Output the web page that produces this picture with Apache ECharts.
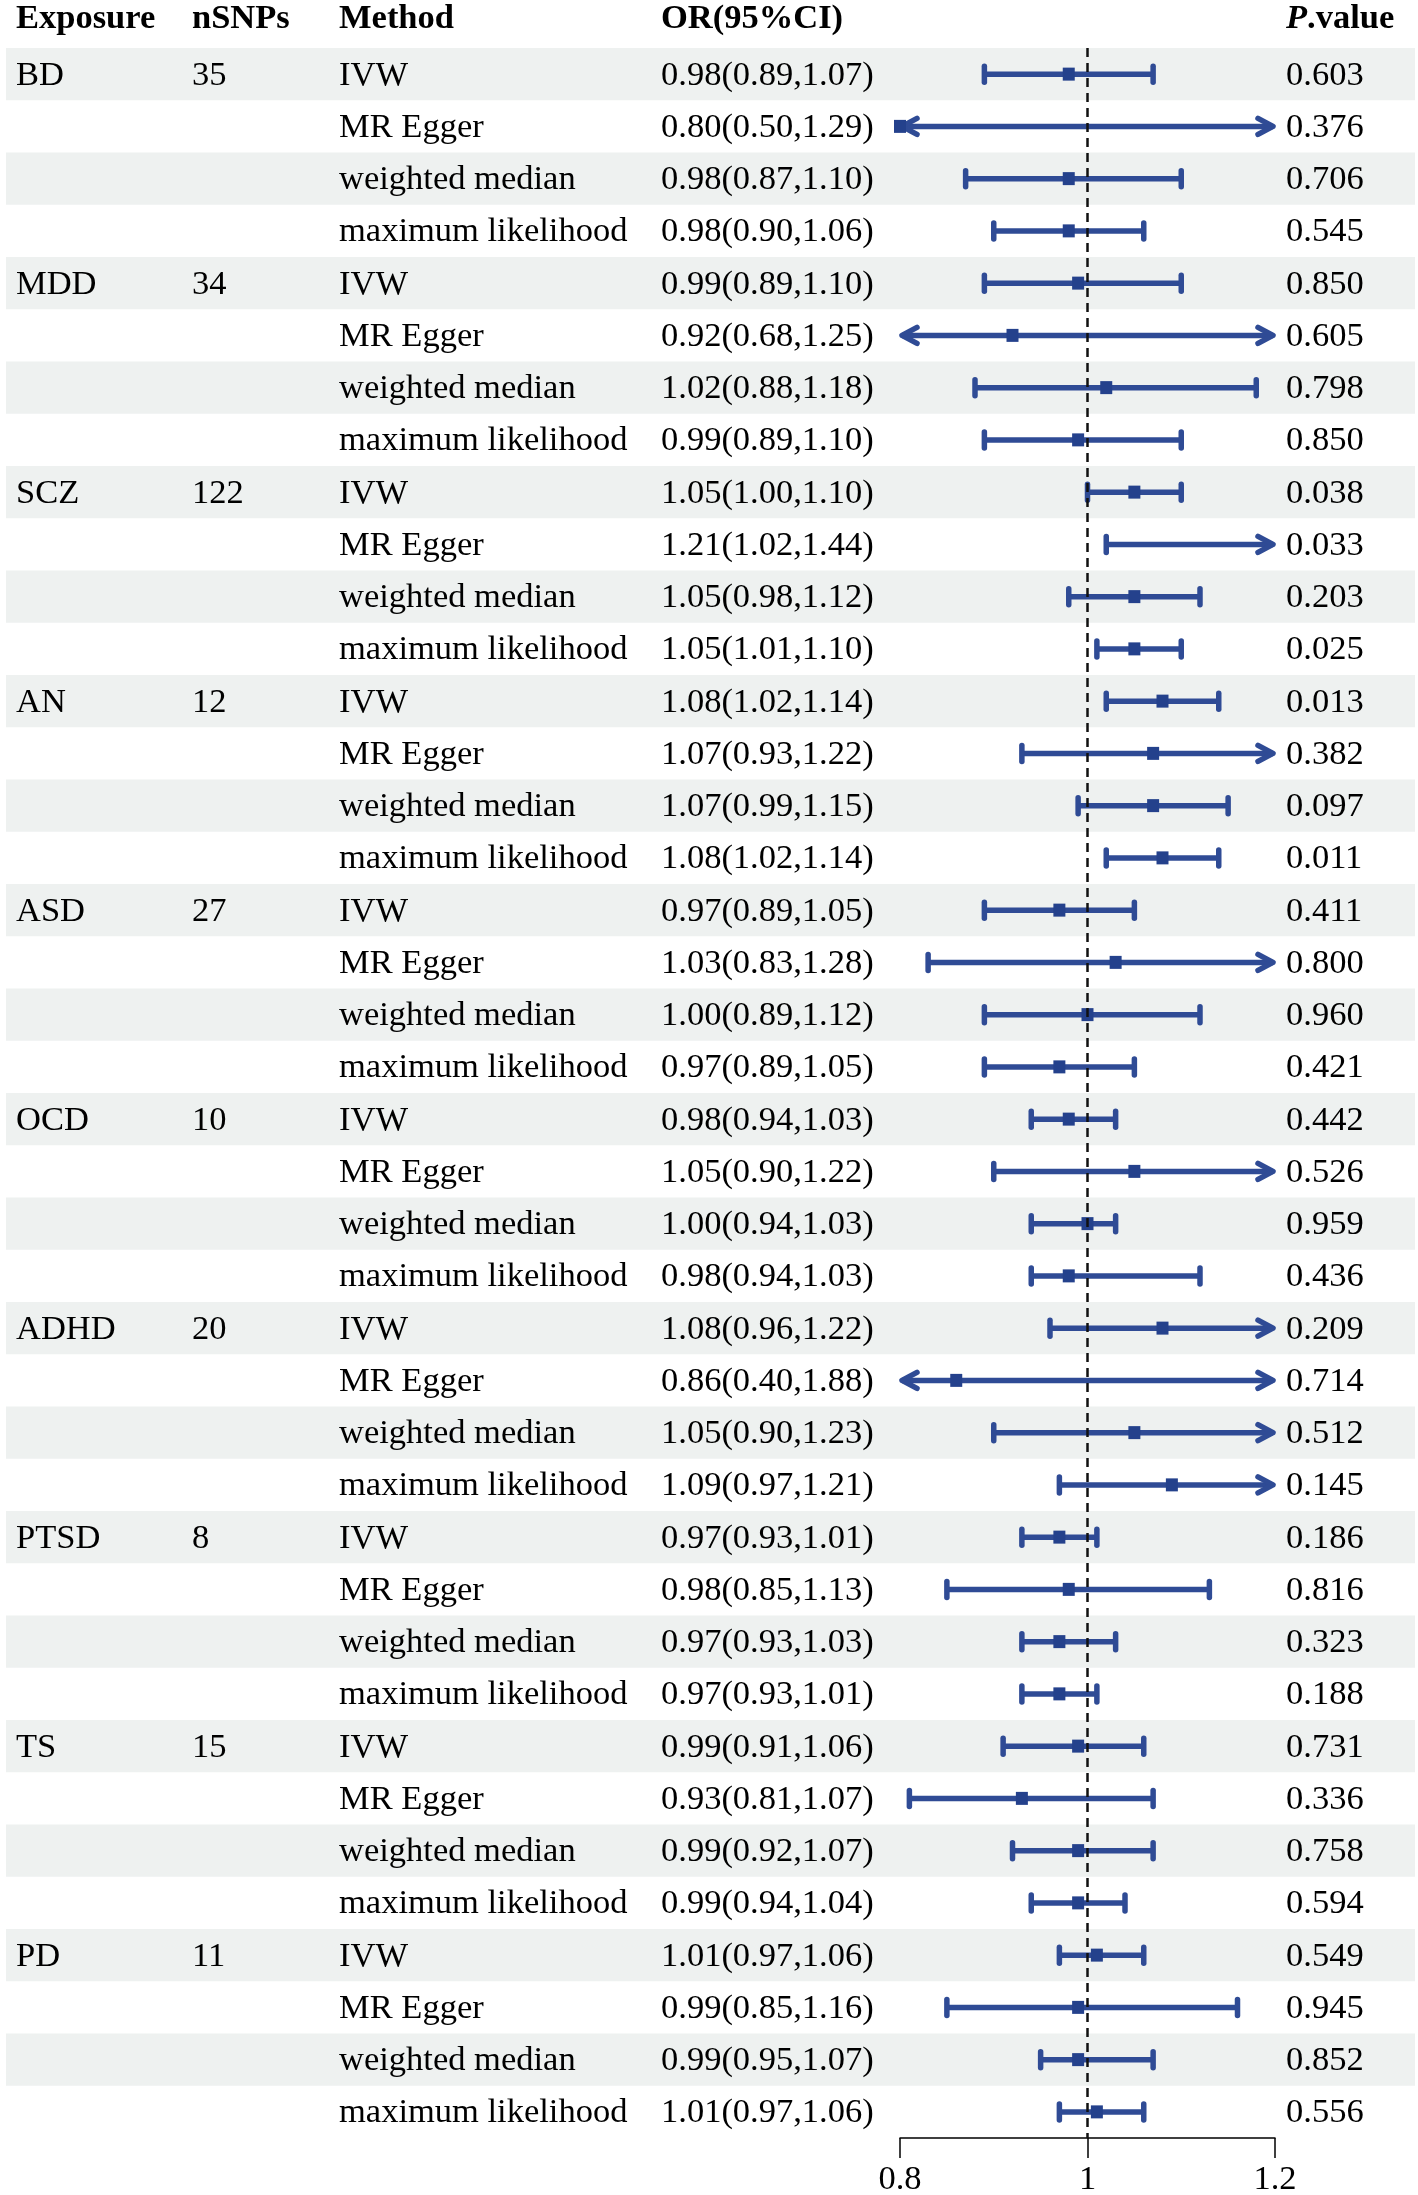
<!DOCTYPE html>
<html>
<head>
<meta charset="utf-8">
<script src="https://cdn.jsdelivr.net/npm/echarts@6/dist/echarts.min.js"></script>
<style>
html, body { margin: 0; padding: 0; background: #fff; }
#main { width: 1418px; height: 2195px; }
</style>
</head>
<body>
<div id="main"></div>
<script>
// exposures, 4 MR methods each
var exposures = ['BD', 'MDD', 'SCZ', 'AN', 'ASD', 'OCD', 'ADHD', 'PTSD', 'TS', 'PD'];
var nSNPs = ['35', '34', '122', '12', '27', '10', '20', '8', '15', '11'];
var methods = ['IVW', 'MR Egger', 'weighted median', 'maximum likelihood'];

var orVal = [
    0.98, 0.80, 0.98, 0.98,
    0.99, 0.92, 1.02, 0.99,
    1.05, 1.21, 1.05, 1.05,
    1.08, 1.07, 1.07, 1.08,
    0.97, 1.03, 1.00, 0.97,
    0.98, 1.05, 1.00, 0.98,
    1.08, 0.86, 1.05, 1.09,
    0.97, 0.98, 0.97, 0.97,
    0.99, 0.93, 0.99, 0.99,
    1.01, 0.99, 0.99, 1.01
];
var ciLow = [
    0.89, 0.50, 0.87, 0.90,
    0.89, 0.68, 0.88, 0.89,
    1.00, 1.02, 0.98, 1.01,
    1.02, 0.93, 0.99, 1.02,
    0.89, 0.83, 0.89, 0.89,
    0.94, 0.90, 0.94, 0.94,
    0.96, 0.40, 0.90, 0.97,
    0.93, 0.85, 0.93, 0.93,
    0.91, 0.81, 0.92, 0.94,
    0.97, 0.85, 0.95, 0.97
];
// upper limits as drawn (OCD max. likelihood bar reaches ~1.12 in the figure)
var ciHigh = [
    1.07, 1.29, 1.10, 1.06,
    1.10, 1.25, 1.18, 1.10,
    1.10, 1.44, 1.12, 1.10,
    1.14, 1.22, 1.15, 1.14,
    1.05, 1.28, 1.12, 1.05,
    1.03, 1.22, 1.03, 1.12,
    1.22, 1.88, 1.23, 1.21,
    1.01, 1.13, 1.03, 1.01,
    1.06, 1.07, 1.07, 1.04,
    1.06, 1.16, 1.07, 1.06
];
var orLabel = [
    '0.98(0.89,1.07)', '0.80(0.50,1.29)', '0.98(0.87,1.10)', '0.98(0.90,1.06)',
    '0.99(0.89,1.10)', '0.92(0.68,1.25)', '1.02(0.88,1.18)', '0.99(0.89,1.10)',
    '1.05(1.00,1.10)', '1.21(1.02,1.44)', '1.05(0.98,1.12)', '1.05(1.01,1.10)',
    '1.08(1.02,1.14)', '1.07(0.93,1.22)', '1.07(0.99,1.15)', '1.08(1.02,1.14)',
    '0.97(0.89,1.05)', '1.03(0.83,1.28)', '1.00(0.89,1.12)', '0.97(0.89,1.05)',
    '0.98(0.94,1.03)', '1.05(0.90,1.22)', '1.00(0.94,1.03)', '0.98(0.94,1.03)',
    '1.08(0.96,1.22)', '0.86(0.40,1.88)', '1.05(0.90,1.23)', '1.09(0.97,1.21)',
    '0.97(0.93,1.01)', '0.98(0.85,1.13)', '0.97(0.93,1.03)', '0.97(0.93,1.01)',
    '0.99(0.91,1.06)', '0.93(0.81,1.07)', '0.99(0.92,1.07)', '0.99(0.94,1.04)',
    '1.01(0.97,1.06)', '0.99(0.85,1.16)', '0.99(0.95,1.07)', '1.01(0.97,1.06)'
];
var pValue = [
    '0.603', '0.376', '0.706', '0.545',
    '0.850', '0.605', '0.798', '0.850',
    '0.038', '0.033', '0.203', '0.025',
    '0.013', '0.382', '0.097', '0.011',
    '0.411', '0.800', '0.960', '0.421',
    '0.442', '0.526', '0.959', '0.436',
    '0.209', '0.714', '0.512', '0.145',
    '0.186', '0.816', '0.323', '0.188',
    '0.731', '0.336', '0.758', '0.594',
    '0.549', '0.945', '0.852', '0.556'
];
var xTicks = [0.8, 1, 1.2];

var X_MIN = 0.8, X_MAX = 1.2;
var FONT = '34.5px "Liberation Serif", "Times New Roman", serif';
var BOLD = 'bold ' + FONT;
var BLUE = '#2F4B95';
var BAND = '#EEF1F0';
var COL = { exp: 16, snp: 192, method: 339, or: 661, p: 1286 };
var TEXT_DY = 1.5;

var chart = echarts.init(document.getElementById('main'), null, { renderer: 'canvas' });

var rows = [];
var cats = [];
for (var i = 0; i < orVal.length; i++) {
    rows.push([i, orVal[i], ciLow[i], ciHigh[i]]);
    cats.push(String(i));
}

function txt(s, x, y, font) {
    return {
        type: 'text',
        style: { text: s, x: x, y: y, font: font || FONT, fill: '#000', align: 'left', verticalAlign: 'middle' }
    };
}

function renderRow(params, api) {
    var i = api.value(0);
    var g = Math.floor(i / 4), m = i % 4;
    var yc = api.coord([1, i])[1];
    var h = api.size([0, 1])[1];
    var left = api.coord([X_MIN, i])[0];
    var right = api.coord([X_MAX, i])[0];
    var or = api.value(1), lo = api.value(2), hi = api.value(3);
    var kids = [];

    if (i % 2 === 0) {
        kids.push({ type: 'rect', shape: { x: 6, y: yc - h / 2, width: 1409, height: h }, style: { fill: BAND } });
    }
    if (m === 0) {
        kids.push(txt(exposures[g], COL.exp, yc + TEXT_DY));
        kids.push(txt(nSNPs[g], COL.snp, yc + TEXT_DY));
    }
    kids.push(txt(methods[m], COL.method, yc + TEXT_DY));
    kids.push(txt(orLabel[i], COL.or, yc + TEXT_DY));
    kids.push(txt(pValue[i], COL.p, yc + TEXT_DY));

    var aL = 15, aH = 8;
    var x1 = lo < X_MIN ? left + 2 : api.coord([lo, i])[0];
    var x2 = hi > X_MAX ? right - 2 : api.coord([hi, i])[0];
    var stroke = { stroke: BLUE, lineWidth: 5.5, lineCap: 'round', lineJoin: 'round', fill: null };

    kids.push({ type: 'line', shape: { x1: x1, y1: yc, x2: x2, y2: yc }, style: { stroke: BLUE, lineWidth: 5.5 } });

    if (lo < X_MIN) {
        kids.push({ type: 'polyline', shape: { points: [[x1 + aL, yc - aH], [x1, yc], [x1 + aL, yc + aH]] }, style: stroke });
    } else {
        kids.push({ type: 'line', shape: { x1: x1, y1: yc - 8, x2: x1, y2: yc + 8 }, style: stroke });
    }
    if (hi > X_MAX) {
        kids.push({ type: 'polyline', shape: { points: [[x2 - aL, yc - aH], [x2, yc], [x2 - aL, yc + aH]] }, style: stroke });
    } else {
        kids.push({ type: 'line', shape: { x1: x2, y1: yc - 8, x2: x2, y2: yc + 8 }, style: stroke });
    }

    if (or >= X_MIN && or <= X_MAX) {
        var px = api.coord([or, i])[0];
        kids.push({ type: 'rect', shape: { x: px - 6, y: yc - 6.5, width: 12, height: 13 }, style: { fill: '#24418C' } });
    }

    return { type: 'group', children: kids };
}

var headY = 19;

var option = {
    backgroundColor: '#fff',
    animation: false,
    grid: { left: 900, right: 143, top: 48, bottom: 57, outerBoundsMode: 'none' },
    xAxis: {
        type: 'value',
        min: X_MIN,
        max: X_MAX,
        interval: 0.2,
        splitLine: { show: false },
        axisLine: { show: true, onZero: false, lineStyle: { color: '#000', width: 1.5 } },
        axisTick: { show: true, length: 20, lineStyle: { color: '#000', width: 1.5 } },
        axisLabel: {
            margin: 24,
            color: '#000',
            fontSize: 34.5,
            fontFamily: '"Liberation Serif", "Times New Roman", serif',
            customValues: xTicks,
            formatter: function(v) { return String(+v.toFixed(2)); }
        }
    },
    yAxis: {
        type: 'category',
        data: cats,
        inverse: true,
        show: false
    },
    graphic: [
        txt('Exposure', COL.exp, headY, BOLD),
        txt('nSNPs', COL.snp, headY, BOLD),
        txt('Method', COL.method, headY, BOLD),
        txt('OR(95%CI)', COL.or, headY, BOLD),
        {
            type: 'text',
            style: {
                text: '{a|P}{b|.value}',
                x: COL.p, y: headY,
                verticalAlign: 'middle',
                rich: {
                    a: { font: 'italic ' + BOLD, fill: '#000' },
                    b: { font: BOLD, fill: '#000' }
                }
            }
        }
    ],
    series: [{
        type: 'custom',
        renderItem: renderRow,
        encode: { x: [1, 2, 3], y: 0 },
        data: rows,
        clip: false,
        markLine: {
            silent: true,
            symbol: 'none',
            label: { show: false },
            lineStyle: { color: '#111', width: 2.5, type: [9, 6] },
            data: [{ xAxis: 1 }]
        }
    }]
};

chart.setOption(option);
</script>
</body>
</html>
